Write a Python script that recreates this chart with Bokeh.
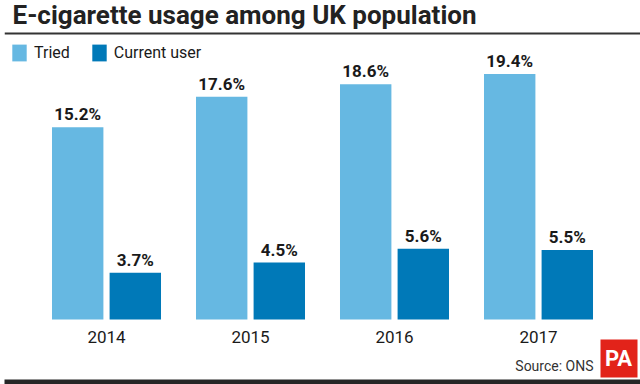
from bokeh.plotting import figure
from bokeh.models import (ColumnDataSource, FactorRange, Range1d, Label, Span,
                          BoxAnnotation, Legend, LegendItem)
from bokeh.transform import dodge
from bokeh.core.properties import value
from bokeh.embed import file_html
from bokeh.resources import INLINE

# ---- data ----
years = ["2014", "2015", "2016", "2017"]
tried = [15.2, 17.6, 18.6, 19.4]
current = [3.7, 4.5, 5.6, 5.5]
tried_labels = ["15.2%", "17.6%", "18.6%", "19.4%"]
current_labels = ["3.7%", "4.5%", "5.6%", "5.5%"]
series_names = ["Tried", "Current user"]
title_text = "E-cigarette usage among UK population"
source_text = "Source: ONS"
logo_text = "PA"

# ---- style ----
FONT = "Roboto"
TRIED_COLOR = "#66B8E2"
CURRENT_COLOR = "#0079B8"
TEXT_COLOR = "#1a1a1a"
W, H = 640, 384

src = ColumnDataSource(dict(year=years, tried=tried, current=current,
                            tried_label=tried_labels, current_label=current_labels))

p = figure(width=W, height=H, output_backend="svg", toolbar_location=None,
           x_range=FactorRange(factors=years, range_padding=30 / 144,
                               range_padding_units="absolute"),
           y_range=Range1d(-5.138, 25.218),
           x_axis_location=None, y_axis_location=None,
           min_border_left=4, min_border_right=0, min_border_top=0,
           min_border_bottom=0)
p.grid.visible = False
p.outline_line_color = None
p.background_fill_color = "white"
p.border_fill_color = "white"

r_tried = p.vbar(x=dodge("year", -0.2, range=p.x_range), top="tried", width=0.357,
                 source=src, fill_color=TRIED_COLOR, line_color=None)
r_current = p.vbar(x=dodge("year", 0.2, range=p.x_range), top="current", width=0.357,
                   source=src, fill_color=CURRENT_COLOR, line_color=None)

for off, col in ((-0.2, "tried"), (0.2, "current")):
    p.text(x=dodge("year", off, range=p.x_range), y=col, text=col + "_label",
           source=src, text_align="center", text_baseline="alphabetic",
           y_offset=-13, text_font=value(FONT), text_font_style="bold",
           text_font_size="17px", text_color=TEXT_COLOR)

# category labels under the bars (at the zero baseline)
p.text(x="year", y=0, text="year", source=src, text_align="center",
       text_baseline="alphabetic", y_offset=17, text_font=value(FONT),
       text_font_size="17px", text_color=TEXT_COLOR)

legend = Legend(items=[LegendItem(label=series_names[0], renderers=[r_tried]),
                       LegendItem(label=series_names[1], renderers=[r_current])],
                orientation="horizontal", location=(6, 321),
                glyph_width=18, glyph_height=21, label_height=21,
                label_standoff=6, spacing=20, padding=0, margin=0,
                border_line_color=None, background_fill_alpha=0,
                label_text_font=FONT, label_text_font_size="16px",
                label_text_color=TEXT_COLOR)
p.add_layout(legend)

p.add_layout(Label(x=8, y=370, x_units="screen", y_units="screen", text=title_text,
                   text_font=FONT, text_font_size="26px", text_font_style="bold",
                   text_color="#222222", text_baseline="alphabetic"))
p.add_layout(Span(location=351, location_units="screen", dimension="width",
                  line_color="#333333", line_width=2))

p.add_layout(Label(x=589, y=19, x_units="screen", y_units="screen", text=source_text,
                   text_font=FONT, text_font_size="14px", text_color="#333333",
                   text_align="right", text_baseline="alphabetic"))
p.add_layout(BoxAnnotation(left=596, right=633, top=45, bottom=7,
                           left_units="screen", right_units="screen",
                           top_units="screen", bottom_units="screen",
                           fill_color="#E2231A", fill_alpha=1, line_color=None))
p.add_layout(Label(x=614, y=26, x_units="screen", y_units="screen", text=logo_text,
                   text_font="'Liberation Sans Narrow', Roboto", text_font_size="22px",
                   text_font_style="bold", text_color="white", text_align="center",
                   text_baseline="alphabetic"))
p.add_layout(BoxAnnotation(left=-4, right=640, top=5, bottom=0,
                           left_units="screen", right_units="screen",
                           top_units="screen", bottom_units="screen",
                           fill_color="#262626", fill_alpha=1, line_color=None))

open("out.html", "w").write(file_html(p, INLINE))
